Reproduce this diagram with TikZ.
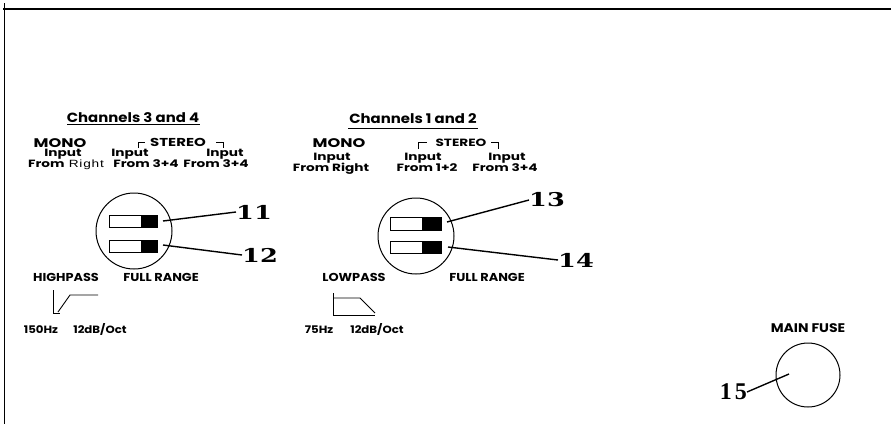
\documentclass[tikz,border=0pt]{standalone}
\usepackage{fontspec}
\setmainfont{Poppins}
\newfontfamily\numfont{DejaVu Serif}
\newfontfamily\fusefont{Liberation Serif}
\newfontfamily\plainsans{Liberation Sans}
\newcommand\stretchx[1]{\scalebox{1.12}[1]{#1}}
\newcommand\stretchin[1]{\scalebox{1.3}[1]{#1}}
\newcommand\stretchnum[1]{\scalebox{1.35}[1]{#1}}
\begin{document}
\begin{tikzpicture}[x=1pt,y=-1pt,
  txt/.style={inner sep=0pt, anchor=base, font=\fontsize{10.5}{11}\selectfont\bfseries},
  title/.style={inner sep=0pt, anchor=base, font=\fontsize{13.3}{14}\selectfont\bfseries},
  mono/.style={inner sep=0pt, anchor=base, font=\fontsize{12.5}{13}\selectfont\bfseries},
  mode/.style={inner sep=0pt, anchor=base, font=\fontsize{11.5}{12}\selectfont\bfseries},
  stereo/.style={inner sep=0pt, anchor=base, font=\fontsize{11.5}{12}\selectfont\bfseries},
  fuselbl/.style={inner sep=0pt, anchor=base, font=\fontsize{12.5}{13}\selectfont\bfseries},
  small/.style={inner sep=0pt, anchor=base, font=\fontsize{10.5}{11}\selectfont\bfseries},
  num/.style={inner sep=0pt, font=\fontsize{19}{20}\selectfont\numfont\bfseries},
  fusenum/.style={inner sep=0pt, font=\fontsize{24}{26}\selectfont\fusefont\bfseries},
  ring/.style={draw, circle, line width=1pt, inner sep=0pt},
  leader/.style={line width=1.4pt},
  frame/.style={line width=2pt},
  thin/.style={line width=0.9pt}
]
\useasboundingbox (0,0) rectangle (891,424);
% frame
\draw[frame] (3,9) -- (891,9);
\draw[thin] (4,3) -- (4,424);

% ---------------- Channels 3 and 4
\node[title] (ch34) at (133,122) {\stretchx{Channels 3 and 4}};
\draw[thin] (67,124.5) -- (200,124.5);
\node[mono] (mono34) at (60,147) {\stretchin{MONO}};
\node[stereo] (st34) at (178,146.5) {\stretchin{STEREO}};
\draw[thin] (138,148) -- (138,142) -- (145,142);
\draw[thin] (216,142) -- (223,142) -- (223,148);
\node[txt] (in34a) at (63,156.5) {\stretchin{Input}};
\node[txt] (fr34a) at (66,167.5) {\stretchin{From \hspace{1pt}{\plainsans\mdseries\addfontfeature{LetterSpace=6}Right}}};
\node[txt] (in34b) at (130,156.5) {\stretchin{Input}};
\node[txt] (fr34b) at (146,167.5) {\stretchin{From 3+4}};
\node[txt] (in34c) at (225,156.5) {\stretchin{Input}};
\node[txt] (fr34c) at (216,167.5) {\stretchin{From 3+4}};
\node[ring, minimum size=76pt] (c34) at (134,231) {};
\draw[thin] (109,215) rectangle (157,227);
\fill (141,215) rectangle (157,227);
\draw[thin] (109,240) rectangle (157,252);
\fill (141,240) rectangle (157,252);
\coordinate (s11) at (163,221);
\coordinate (s12) at (163,245);
\node[num, anchor=west] (n11) at (236,212) {\stretchnum{11}};
\node[num, anchor=west] (n12) at (242,255) {\stretchnum{12}};
\draw[leader] (s11) -- (n11.west);
\draw[leader] (s12) -- (n12.west);
\node[mode] (hp) at (66,281) {\stretchx{HIGHPASS}};
\node[mode] (fr34) at (161,281) {\stretchx{FULL RANGE}};
\draw[thin] (53,290) -- (53,313) -- (60,313);
\draw[thin] (58,312) -- (70,295) -- (98,295);
\node[small] (hz150) at (41,333.5) {\stretchx{150Hz}};
\node[small] (db34) at (100,333.5) {\stretchx{12dB/Oct}};

% ---------------- Channels 1 and 2
\node[title] (ch12) at (413,123) {\stretchx{Channels 1 and 2}};
\draw[thin] (348,128) -- (478,128);
\node[mono] (mono12) at (339,147) {\stretchin{MONO}};
\node[stereo, font=\fontsize{10.5}{11}\selectfont\bfseries] (st12) at (461,146.5) {\stretchin{STEREO}};
\draw[thin] (418,149) -- (418,142) -- (427,142);
\draw[thin] (491,142) -- (498,142) -- (498,149);
\node[txt] (in12a) at (332,160) {\stretchin{Input}};
\node[txt] (fr12a) at (331,171) {\stretchin{From Right}};
\node[txt] (in12b) at (423,160) {\stretchin{Input}};
\node[txt] (fr12b) at (427,171) {\stretchin{From 1+2}};
\node[txt] (in12c) at (507,160) {\stretchin{Input}};
\node[txt] (fr12c) at (505,171) {\stretchin{From 3+4}};
\node[ring, minimum size=76pt] (c12) at (416,236) {};
\draw[thin] (390,217) rectangle (441,230);
\fill (422,217) rectangle (441,230);
\draw[thin] (390,241) rectangle (441,253);
\fill (422,241) rectangle (441,253);
\coordinate (s13) at (447,222);
\coordinate (s14) at (448,247);
\node[num, anchor=west] (n13) at (529,200) {\stretchnum{13}};
\node[num, anchor=west] (n14) at (558,260) {\stretchnum{14}};
\draw[leader] (s13) -- (n13.west);
\draw[leader] (s14) -- (n14.west);
\node[mode] (lp) at (354,281) {\stretchx{LOWPASS}};
\node[mode] (fr12) at (487,281) {\stretchx{FULL RANGE}};
\draw[thin] (333,293) -- (333,315) -- (375,315);
\draw[thin] (333,298) -- (360,298) -- (375,313);
\node[small] (hz75) at (319,333.5) {\stretchx{75Hz}};
\node[small] (db12) at (377,333.5) {\stretchx{12dB/Oct}};

% ---------------- Main fuse
\node[fuselbl] (mf) at (808,332) {\stretchx{MAIN FUSE}};
\node[ring, minimum size=64pt] (fuse) at (808,375) {};
\coordinate (f15) at (789,374);
\node[fusenum, anchor=east] (n15) at (747,392) {1\hspace{3pt}5};
\draw[leader] (f15) -- (n15.east);
\end{tikzpicture}
\end{document}
